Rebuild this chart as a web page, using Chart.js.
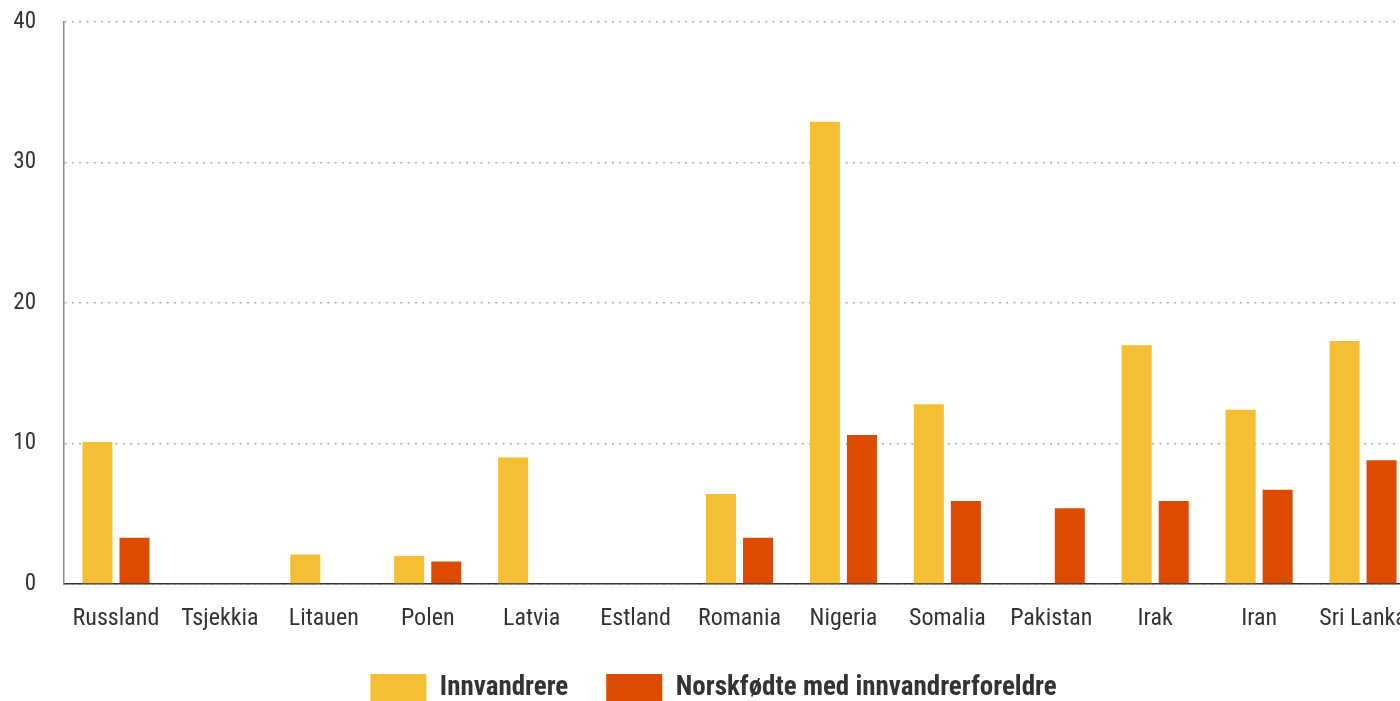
<!DOCTYPE html>
<html lang="no">
<head>
    <meta charset="UTF-8">
    <title>Innvandrere og norskfødte med innvandrerforeldre</title>
    <script src="https://cdn.jsdelivr.net/npm/chart.js"></script>
    <style>
        html, body { margin: 0; padding: 0; overflow: hidden; background: #fff; }
        #wrap { width: 1415px; height: 712px; }
    </style>
</head>
<body>
    <div id="wrap"><canvas id="chart" width="1415" height="712"></canvas></div>

    <script>
        var countries = ['Russland', 'Tsjekkia', 'Litauen', 'Polen', 'Latvia', 'Estland', 'Romania',
                         'Nigeria', 'Somalia', 'Pakistan', 'Irak', 'Iran', 'Sri Lanka'];
        var innvandrere = [10.1, null, 2.1, 2.0, 9.0, null, 6.4, 32.9, 12.8, null, 17.0, 12.4, 17.3];
        var norskfodte = [3.3, null, null, 1.6, null, null, 3.3, 10.6, 5.9, 5.4, 5.9, 6.7, 8.8];
        var yTicks = [0, 10, 20, 30, 40];

        var font = "'Liberation Sans Narrow', 'Roboto Condensed', 'Roboto', sans-serif";
        Chart.defaults.font.family = font;
        Chart.defaults.color = '#333';

        // nudge the legend a little to the right, like the original
        var legendShift = {
            id: 'legendShift',
            afterLayout: function (chart) {
                chart.legend.left += 6;
                chart.legend.right += 6;
            }
        };

        var ctx = document.getElementById('chart').getContext('2d');
        var chart = new Chart(ctx, {
            type: 'bar',
            data: {
                labels: countries,
                datasets: [{
                    label: 'Innvandrere',
                    data: innvandrere,
                    backgroundColor: '#f4bf35',
                    borderWidth: 0
                }, {
                    label: 'Norskfødte med innvandrerforeldre',
                    data: norskfodte,
                    backgroundColor: '#dc4b00',
                    borderWidth: 0
                }]
            },
            plugins: [legendShift],
            options: {
                responsive: false,
                animation: false,
                categoryPercentage: 0.713,
                barPercentage: 0.81,
                layout: { padding: { top: 22, left: 0, right: 0, bottom: 0 } },
                plugins: {
                    tooltip: { enabled: false },
                    legend: {
                        position: 'bottom',
                        labels: {
                            boxWidth: 56,
                            boxHeight: 28,
                            padding: 38,
                            color: '#333',
                            font: { size: 27, weight: 'bold' }
                        }
                    }
                },
                scales: {
                    x: {
                        afterFit: function (axis) {
                            // fixed height so the legend sits where it should
                            axis.height = 52;
                            axis.paddingLeft = 0;
                            axis.paddingRight = 0;
                        },
                        grid: { display: false, drawTicks: false },
                        border: { color: '#333', width: 1.5 },
                        ticks: { padding: 21, font: { size: 24 }, color: '#333', maxRotation: 0, autoSkip: false }
                    },
                    y: {
                        min: 0,
                        max: 40,
                        afterBuildTicks: function (axis) {
                            axis.ticks = yTicks.map(function (v) { return { value: v }; });
                        },
                        afterFit: function (axis) {
                            axis.width = 64;
                            axis.paddingTop = 0;
                            axis.paddingBottom = 0;
                        },
                        grid: { color: '#aaa', lineWidth: 1.5, drawTicks: false },
                        border: { color: '#888', width: 1.5, dash: [2, 5.3] },
                        ticks: { padding: 28, font: { size: 23 }, color: '#333' }
                    }
                }
            }
        });
    </script>
</body>
</html>
